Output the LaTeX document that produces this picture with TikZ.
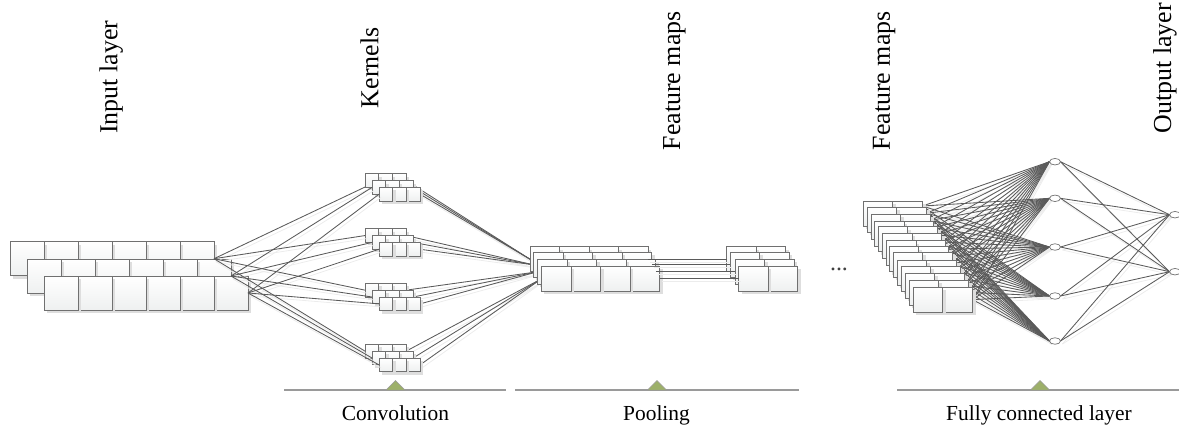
\documentclass[tikz,border=0pt]{standalone}
\usepackage{fontspec}
\setmainfont{Liberation Serif}
\usetikzlibrary{shadows,calc,shapes.geometric}
\pgfdeclarelayer{wires}
\pgfsetlayers{wires,main}
\definecolor{edgegray}{HTML}{707070}
\definecolor{wiregray}{HTML}{5A5A5A}
\definecolor{wireshade}{HTML}{ECECEC}
\definecolor{boxbottom}{HTML}{EEF0F0}
\definecolor{shadegray}{HTML}{DEDEDE}
\definecolor{rulegray}{HTML}{9A9A9A}
\definecolor{trigreen}{HTML}{9DB06A}
\tikzset{
  x=1bp,y=-1bp,
  cell/.style={draw=edgegray,line width=0.9bp,rectangle,inner sep=0pt,outer sep=0pt,anchor=north west,
    top color=white,bottom color=boxbottom,
    general shadow={fill=shadegray,shadow xshift=3bp,shadow yshift=-3bp}},
  bigcell/.style={cell,minimum width=34bp,minimum height=34bp},
  kerncell/.style={cell,minimum width=13.7bp,minimum height=13.7bp},
  mapcell/.style={cell,minimum width=29.6bp,minimum height=25bp},
  neuron/.style={draw=edgegray,line width=0.7bp,ellipse,fill=white,inner sep=0pt,outer sep=0pt,minimum width=11bp,minimum height=6.5bp},
  wire/.style={draw=wiregray,line width=0.85bp},
  wireshadow/.style={draw=wireshade,line width=0.8bp,transform canvas={shift={(2bp,-3bp)}}},
  baseline rule/.style={draw=rulegray,line width=1.3bp},
  tri/.style={fill=trigreen,draw=rulegray,line width=0.5bp},
  vlabel/.style={rotate=90,anchor=base west,inner sep=0pt,font=\fontsize{26}{30}\selectfont},
  hlabel/.style={anchor=base,inner sep=0pt,font=\fontsize{21.5}{25}\selectfont},
}
\begin{document}
\begin{tikzpicture}
\useasboundingbox (0,0) rectangle (1179,432);
% input layer
\foreach \r/\x/\y in {1/10/241.7,2/27/259,3/44/276}{
  \foreach \c in {6,5,4,3,2,1}{
    \node[bigcell] (in\r c\c) at ({\x+(\c-1)*34},\y) {};
  }
}
% kernels
\foreach \g/\gy in {1/173.7,2/228.7,3/283.3,4/344.3}{
  \foreach \r in {1,2,3}{
    \foreach \c in {3,2,1}{
      \node[kerncell] (k\g r\r c\c) at ({365+(\r-1)*7+(\c-1)*13.7},{\gy+(\r-1)*6.85}) {};
    }
    \coordinate (kin\g r\r) at (k\g r\r c1.west);
  }
}
\coordinate (kin1r1) at ($(k1r1c1.west)+(0,6.5)$);
% feature maps 1 and 2
\foreach \r/\x/\y in {1/530/246.7,2/533.4/252.3,3/537.4/259.3,4/541.4/266.3}{
  \foreach \c in {4,3,2,1}{
    \node[mapcell] (fa\r c\c) at ({\x+(\c-1)*29.6},\y) {};
  }
}
\foreach \r/\x/\y in {1/726.7/246.7,2/730/252.3,3/735/259.3,4/738.5/266.3}{
  \foreach \c in {2,1}{
    \node[mapcell] (fb\r c\c) at ({\x+(\c-1)*29.6},\y) {};
  }
}
% feature maps 3
\foreach \r/\x/\y in {1/863.3/201,2/867.3/207.3,3/871.3/214.3,4/874.7/221,5/878.3/226.7,6/882.7/233.3,7/886.7/240.7,8/889.3/246.7,9/893.3/252.3,10/897.3/260,11/901.3/266,12/905.3/273.3,13/909.3/280,14/913.3/287.3}{
  \foreach \c in {2,1}{
    \node[mapcell] (fc\r c\c) at ({\x+(\c-1)*29.6},\y) {};
  }
  \coordinate (fcout\r) at ({\x+59.2},{206+(\r-1)*7.2});
}
% neurons
\foreach \n/\y in {1/161.7,2/198.3,3/247,4/296,5/341}{
  \node[neuron] (h\n) at (1055,\y) {};
}
\foreach \n/\y in {1/214.7,2/271.7}{
  \node[neuron] (o\n) at (1175,\y) {};
}
% connectors behind the boxes
\begin{pgfonlayer}{wires}
\foreach \dr in {wireshadow,wire}{
  \foreach \g in {1,2,3,4}{
    \foreach \r in {1,2,3}{
      \draw[\dr] (k\g r\r c3.east) -- (fa\g c1.west);
    }
  }
  \foreach \r in {1,...,14}{
    \foreach \n in {1,...,5}{
      \draw[\dr] (fcout\r) -- (h\n.west);
    }
  }
  \foreach \n in {1,...,5}{
    \foreach \m in {1,2}{
      \draw[\dr] (h\n.east) -- (o\m.west);
    }
  }
}
\end{pgfonlayer}
% connectors above the boxes
\foreach \dr in {wireshadow,wire}{
  \foreach \r in {1,2,3}{
    \foreach \g in {1,2,3,4}{
      \draw[\dr] (in\r c6.east) -- (kin\g r\r);
    }
  }
  \foreach \r in {1,2,3,4}{
    \draw[\dr] (fa\r c4.east) -- (fb\r c1.west);
  }
}
% dots
\node[anchor=base,inner sep=0pt,font=\fontsize{24}{26}\selectfont,text=black!75] (dots) at (839,270) {...};
% rules
\draw[baseline rule] (284,390) -- (506,390);
\draw[baseline rule] (515,390) -- (799,390);
\draw[baseline rule] (897,390) -- (1179,390);
\filldraw[tri] (386,390) -- (395.5,380.5) -- (405,390) -- cycle;
\filldraw[tri] (647.5,390) -- (657,380.5) -- (666.5,390) -- cycle;
\filldraw[tri] (1030.5,390) -- (1040,380.5) -- (1049.5,390) -- cycle;
% labels
\node[vlabel] (t1) at (117.3,134) {Input layer};
\node[vlabel] (t2) at (378.3,108.3) {Kernels};
\node[vlabel] (t3) at (680,150.5) {Feature maps};
\node[vlabel] (t4) at (889.8,150.5) {Feature maps};
\node[vlabel] (t5) at (1171,133.5) {Output layer};
\node[hlabel] (b1) at (395.5,420.5) {Convolution};
\node[hlabel] (b2) at (656.5,420.5) {Pooling};
\node[hlabel] (b3) at (1039,420.5) {Fully connected layer};
\end{tikzpicture}
\end{document}
